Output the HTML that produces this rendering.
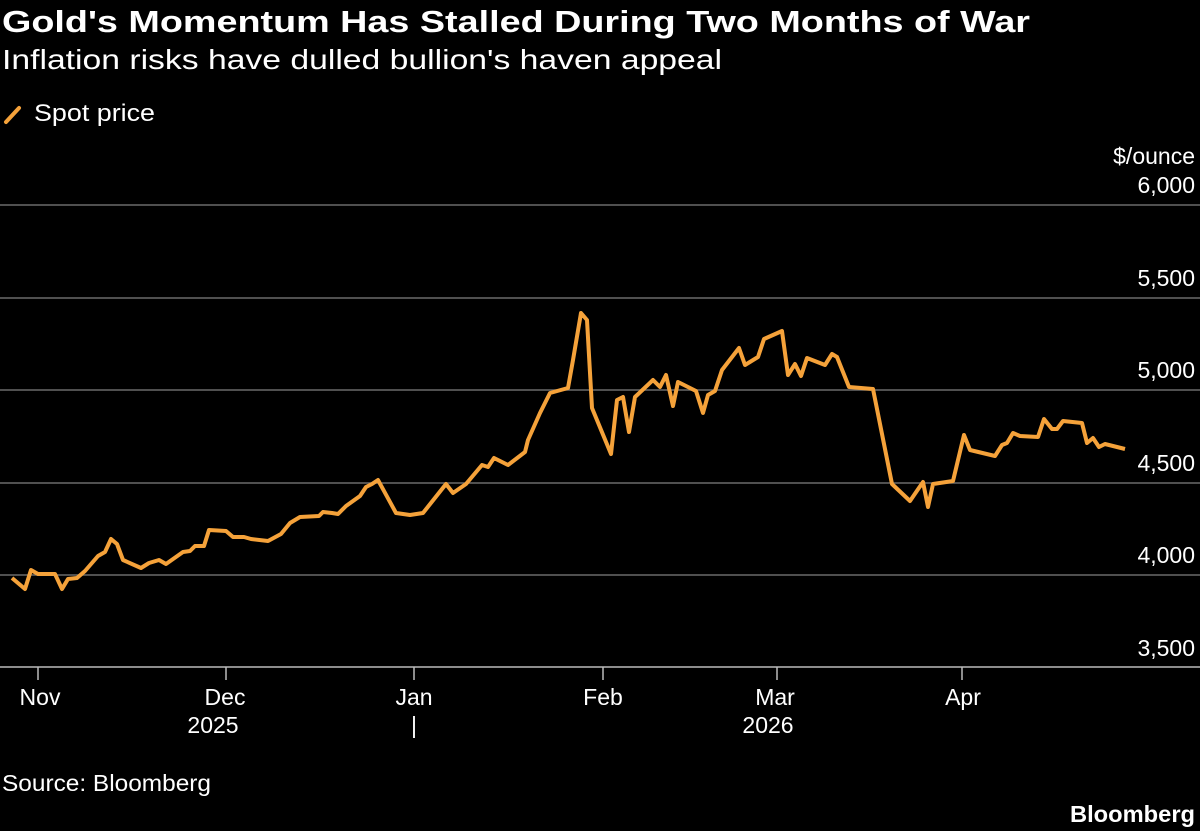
<!DOCTYPE html>
<html><head><meta charset="utf-8"><style>
html,body{margin:0;padding:0;background:#000;width:1200px;height:831px;overflow:hidden}
svg{display:block}
text{font-family:"Liberation Sans",sans-serif;fill:#fff}
</style></head><body>
<svg width="1200" height="831" viewBox="0 0 1200 831" xmlns="http://www.w3.org/2000/svg">
<text x="2" y="32" font-size="31" font-weight="bold" textLength="1028" lengthAdjust="spacingAndGlyphs">Gold's Momentum Has Stalled During Two Months of War</text>
<text x="2" y="69" font-size="28" fill="#e6e6e6" textLength="720" lengthAdjust="spacingAndGlyphs">Inflation risks have dulled bullion's haven appeal</text>
<line x1="6" y1="122" x2="19" y2="108" stroke="#f5a23a" stroke-width="4" stroke-linecap="round"/>
<text x="34" y="121" font-size="24" textLength="121" lengthAdjust="spacingAndGlyphs">Spot price</text>
<text x="1195" y="164" font-size="23" text-anchor="end">$/ounce</text>
<g stroke="#6b6b6b" stroke-width="1.5">
<line x1="0" y1="205" x2="1200" y2="205"/>
<line x1="0" y1="298" x2="1200" y2="298"/>
<line x1="0" y1="390" x2="1200" y2="390"/>
<line x1="0" y1="483" x2="1200" y2="483"/>
<line x1="0" y1="575" x2="1200" y2="575"/>
</g>
<g font-size="23" text-anchor="end">
<text x="1195" y="193">6,000</text>
<text x="1195" y="286">5,500</text>
<text x="1195" y="378">5,000</text>
<text x="1195" y="471">4,500</text>
<text x="1195" y="563">4,000</text>
<text x="1195" y="656">3,500</text>
</g>
<line x1="0" y1="667" x2="1200" y2="667" stroke="#bbb" stroke-width="1.5"/>
<g stroke="#bbb" stroke-width="1.5">
<line x1="38" y1="667" x2="38" y2="680"/>
<line x1="226" y1="667" x2="226" y2="680"/>
<line x1="414" y1="667" x2="414" y2="680"/>
<line x1="603" y1="667" x2="603" y2="680"/>
<line x1="777" y1="667" x2="777" y2="680"/>
<line x1="962" y1="667" x2="962" y2="680"/>
</g>
<g font-size="23" text-anchor="middle">
<text x="40" y="705">Nov</text>
<text x="225" y="705">Dec</text>
<text x="414" y="705">Jan</text>
<text x="603" y="705">Feb</text>
<text x="775" y="705">Mar</text>
<text x="963" y="705">Apr</text>
<text x="213" y="733" fill="#aaa">2025</text>
<text x="414" y="733" fill="#aaa">|</text>
<text x="768" y="733" fill="#aaa">2026</text>
</g>
<polyline fill="none" stroke="#f5a23a" stroke-width="4" stroke-linejoin="round" points="12,578 25,589 31,570 38,574 55,574 62,589 68,579 77,578 85,571 98,556 105,552 111,539 117,544 123,560 141,568 149,563 159,560 166,564 183,552 190,551 195,546 204,546 209,530 226,531 233,537 244,537 251,539 268,541 281,534 290,523 300,517 319,516 323,512 332,513 338,514 346,506 360,496 366,487 372,484 378,480 396,513 403,514 410,515 423,513 446,484 453,493 466,484 482,465 488,467 494,458 508,465 525,452 528,440 540,413 550,393 568,388 573,360 581,313 587,320 592,408 611,454 617,400 623,397 629,432 635,397 653,380 660,387 666,375 673,406 678,382 696,391 703,413 708,395 715,391 722,370 739,348 745,365 758,357 764,339 782,331 788,375 795,364 801,376 807,358 825,365 832,354 837,357 849,387 873,389 892,484 910,501 923,482 928,507 933,484 953,481 964,435 970,450 995,456 1002,445 1007,443 1013,433 1020,436 1038,437 1044,419 1052,429 1057,429 1063,421 1082,423 1087,443 1093,438 1099,447 1105,444 1125,449"/>
<text x="2" y="791" font-size="23" textLength="209" lengthAdjust="spacingAndGlyphs">Source: Bloomberg</text>
<text x="1195" y="822" font-size="23" font-weight="bold" text-anchor="end" textLength="125" lengthAdjust="spacingAndGlyphs">Bloomberg</text>
</svg>
</body></html>
